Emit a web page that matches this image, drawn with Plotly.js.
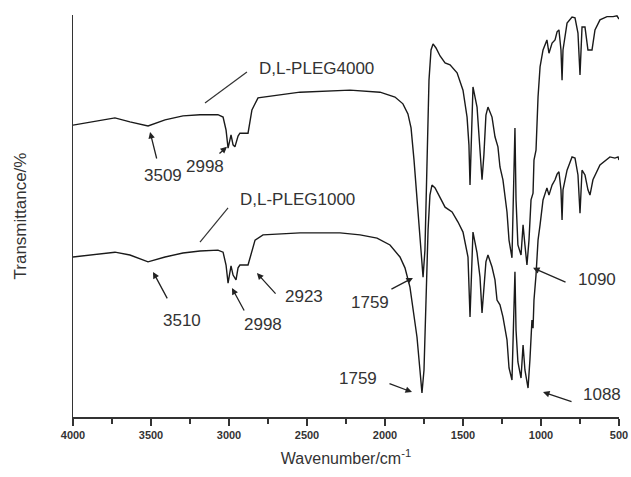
<!DOCTYPE html>
<html>
<head>
<meta charset="utf-8">
<script src="https://cdn.plot.ly/plotly-3.0.1.min.js"></script>
<style>html,body{margin:0;padding:0;background:#fff;}#chart{width:631px;height:477px;}</style>
</head>
<body>
<div id="chart"></div>
<script>
// D,L-PLEG4000 spectrum (wavenumber cm-1, transmittance a.u.)
var wn4000 = [4000,3891,3731,3635,3519,3410,3295,3186,3071,3038,3019,3006,2987,2974,2962,2942,2930,2878,2853,2814,2673,2545,2224,2032,1936,1885,1853,1833,1814,1795,1776,1756,1744,1731,1718,1705,1692,1673,1647,1615,1583,1538,1500,1474,1462,1455,1449,1436,1410,1391,1378,1366,1353,1340,1314,1295,1276,1263,1244,1218,1205,1186,1173,1167,1160,1148,1128,1115,1103,1090,1077,1064,1051,1045,1032,1019,1006,987,962,949,929,910,897,885,872,865,859,833,801,782,763,750,737,718,699,673,654,622,577,538,513,500];
var t4000  = [72.6,73.4,74.4,73.4,72.4,73.9,74.9,75.2,75.2,74.6,71.4,66.9,70.2,67.7,67.2,69.9,70.6,70.6,76.4,79.4,80.1,80.8,81.3,80.8,79.6,77.9,75.4,71.9,63.9,54.0,42.8,34.8,41.5,63.9,83.8,91.3,92.8,91.8,89.8,88.1,87.6,85.6,81.3,74.6,67.7,57.7,66.4,82.1,77.1,67.2,59.0,65.2,75.1,77.1,74.6,69.7,67.2,62.2,59.0,51.0,44.0,39.6,66.4,71.9,54.0,42.8,40.3,47.8,42.8,37.8,44.0,54.0,55.7,63.9,66.4,79.6,87.1,91.3,93.8,90.5,93.0,93.8,95.8,96.3,91.3,83.8,91.3,98.0,99.5,99.3,95.5,85.1,97.0,97.0,91.3,91.3,96.3,98.8,99.6,99.6,99.8,99.0];

// D,L-PLEG1000 spectrum
var wn1000 = [4000,3891,3731,3635,3519,3410,3295,3186,3071,3038,3019,3006,2987,2974,2955,2942,2930,2878,2853,2833,2782,2545,2288,2160,2051,1968,1904,1872,1840,1814,1795,1776,1763,1750,1737,1724,1712,1699,1679,1647,1615,1570,1532,1500,1481,1468,1455,1449,1436,1410,1391,1378,1366,1353,1340,1314,1295,1282,1263,1244,1218,1205,1186,1173,1167,1160,1148,1128,1115,1103,1083,1071,1058,1051,1045,1032,1019,1006,987,962,949,929,910,897,885,872,865,859,833,801,782,763,750,737,718,699,686,667,622,558,526,506,500];
var t1000  = [39.8,40.3,41.0,40.3,38.6,39.8,40.8,41.3,41.5,41.0,37.8,33.3,37.6,35.3,34.1,37.1,37.8,37.8,41.5,44.0,45.3,45.8,45.8,45.3,44.5,42.8,39.8,37.1,32.3,25.4,19.9,11.7,6.0,11.7,29.1,46.5,55.2,57.7,57.0,54.7,52.2,51.0,48.5,46.0,42.8,39.8,24.9,31.6,46.0,40.8,34.8,25.9,32.8,38.6,40.3,37.3,34.1,29.1,27.9,24.9,19.2,12.2,9.2,29.1,36.1,21.6,13.7,9.7,17.9,11.7,7.2,14.2,24.1,22.1,29.1,35.3,44.0,47.8,54.0,57.0,55.2,57.7,59.0,60.4,61.0,56.5,49.0,56.5,61.4,64.7,64.4,60.2,50.7,61.4,60.2,56.5,55.2,59.0,62.7,64.7,64.4,64.7,63.9];

var seriesNames = ['D,L-PLEG4000', 'D,L-PLEG1000'];
var peakLabels = ['3509','2998','3510','2998','2923','1759','1759','1090','1088'];
var xTicks = [4000,3500,3000,2500,2000,1500,1000,500];

var lineStyle = {color:'#1a1a1a', width:1.4};
var traces = [
  {x: wn4000, y: t4000, type:'scatter', mode:'lines', line: lineStyle, name: seriesNames[0], hoverinfo:'skip'},
  {x: wn1000, y: t1000, type:'scatter', mode:'lines', line: lineStyle, name: seriesNames[1], hoverinfo:'skip'}
];

var txtFont = {family:'Liberation Sans, Arial, sans-serif', size:17, color:'#333'};
// arrow tips (data) with tail offsets (px), and text positions (data)
var arrows = [
  [3506,70.9,7,28],[3013,67.2,-9,8],[3487,36.1,15,28],[2981,32.1,13,24],[2821,35.8,20,22],
  [1821,34.6,-23,12],[1827,6.2,-24,-9],[1051,37.1,34,15],[987,6.2,30,10]
];
var textPos = [[3423,60.0],[3154,62.4],[3301,24.1],[2782,22.9],[2519,29.9],[2096,28.6],[2173,9.5],[641,34.1],[609,5.5]];

var annotations = [];
arrows.forEach(function(a){
  annotations.push({x:a[0], y:a[1], xref:'x', yref:'y', ax:a[2], ay:a[3], text:'', showarrow:true,
    arrowhead:2, arrowsize:1, arrowwidth:1.3, arrowcolor:'#222'});
});
textPos.forEach(function(p,i){
  annotations.push({x:p[0], y:p[1], xref:'x', yref:'y', text:peakLabels[i], showarrow:false,
    font:txtFont, xanchor:'center', yanchor:'middle'});
});
annotations.push({x:2442, y:86.8, xref:'x', yref:'y', text:seriesNames[0], showarrow:false, font:txtFont, xanchor:'center', yanchor:'middle'});
annotations.push({x:2564, y:54.0, xref:'x', yref:'y', text:seriesNames[1], showarrow:false, font:txtFont, xanchor:'center', yanchor:'middle'});

var shapes = [
  {type:'line', xref:'x', yref:'y', x0:3154, y0:78.1, x1:2885, y1:85.8, line:{color:'#333', width:1.2}},
  {type:'line', xref:'x', yref:'y', x0:3186, y0:43.5, x1:3006, y1:52.0, line:{color:'#333', width:1.2}}
];

var layout = {
  width:631, height:477,
  margin:{l:73, r:12, t:15, b:60},
  paper_bgcolor:'#fff', plot_bgcolor:'#fff',
  showlegend:false,
  font:{family:'Liberation Sans, Arial, sans-serif', color:'#333'},
  xaxis:{
    range:[4000,500], showgrid:false, zeroline:false, showline:true, linecolor:'#333', linewidth:1.5,
    ticks:'outside', ticklen:7, tickwidth:1.3, tickcolor:'#333', tickvals:xTicks,
    ticktext:xTicks.map(String),
    tickfont:{family:'Liberation Sans, Arial, sans-serif', size:11, color:'#333', weight:'bold'},
    minor:{dtick:250, ticks:'outside', ticklen:5, tickwidth:1.3, tickcolor:'#333', showgrid:false},
    title:{text:'Wavenumber/cm<sup>-1</sup>', font:{family:'Liberation Sans, Arial, sans-serif', size:16, color:'#333'}, standoff:13}
  },
  yaxis:{
    range:[0,100], showgrid:false, zeroline:false, showline:true, linecolor:'#333', linewidth:1.5,
    ticks:'', showticklabels:false,
    title:{text:'Transmittance/%', font:{family:'Liberation Sans, Arial, sans-serif', size:17, color:'#333'}, standoff:40}
  },
  annotations: annotations,
  shapes: shapes
};

Plotly.newPlot('chart', traces, layout, {staticPlot:true, displayModeBar:false});
</script>
</body>
</html>
